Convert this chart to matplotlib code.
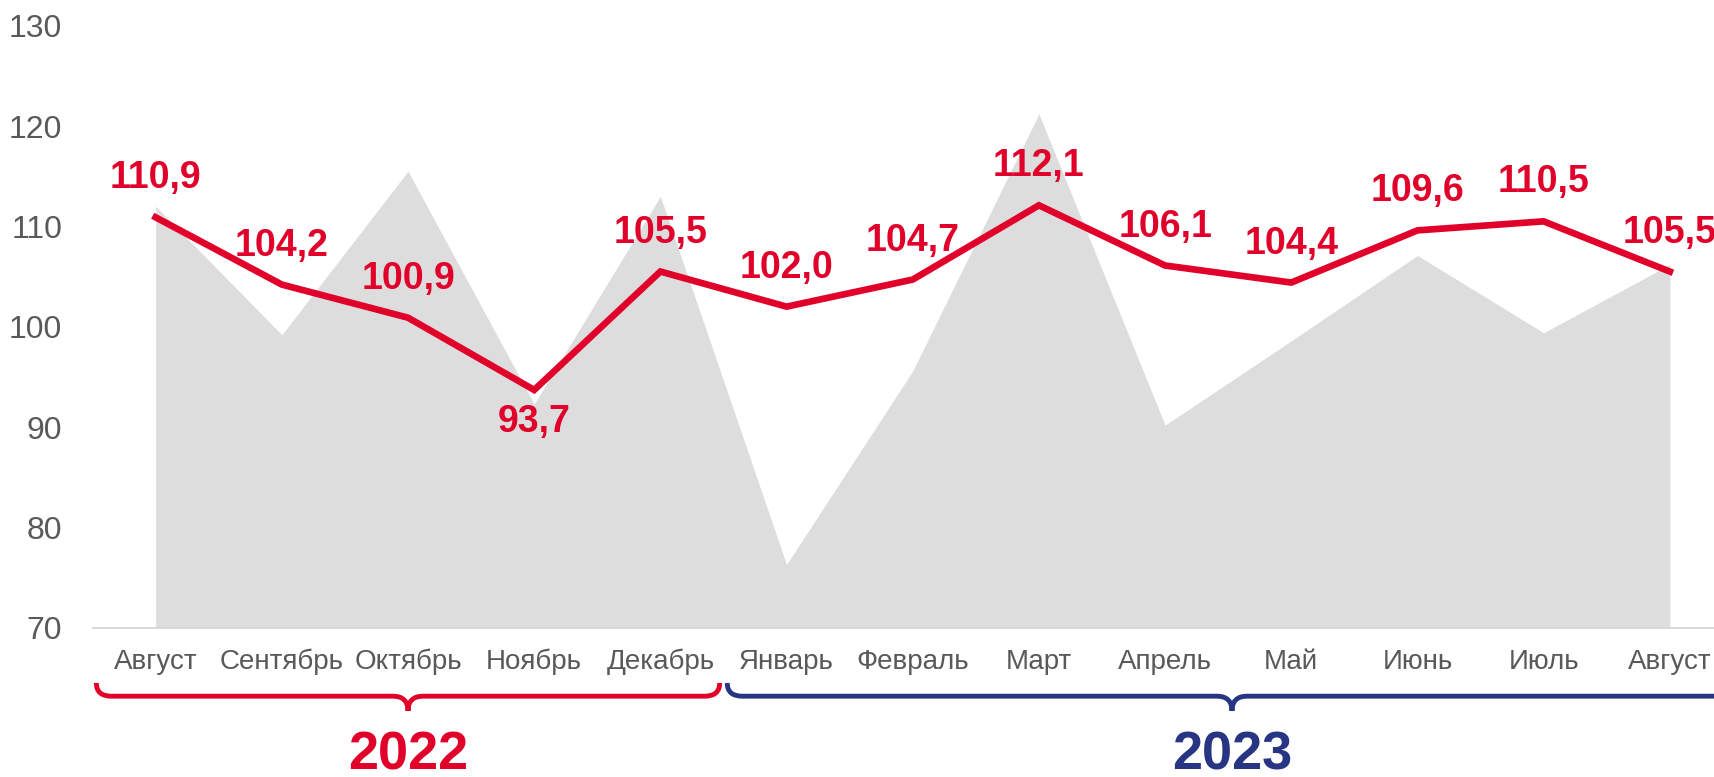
import matplotlib
matplotlib.use('Agg')
import matplotlib.pyplot as plt
from matplotlib.path import Path
from matplotlib.patches import PathPatch
from matplotlib.transforms import blended_transform_factory

# данные
months = ['Август', 'Сентябрь', 'Октябрь', 'Ноябрь', 'Декабрь', 'Январь', 'Февраль',
          'Март', 'Апрель', 'Май', 'Июнь', 'Июль', 'Август']
index_values = [110.9, 104.2, 100.9, 93.7, 105.5, 102.0, 104.7,
                112.1, 106.1, 104.4, 109.6, 110.5, 105.5]
area_values = [112.0, 99.2, 115.5, 92.3, 113.0, 76.3, 95.6,
               121.2, 90.2, 98.6, 107.1, 99.4, 106.2]
years = ['2022', '2023']
year_colors = ['#E1002A', '#283583']
# границы фигурных скобок (в индексах месяцев): левый край, остриё, правый край
brace_spans = [(-0.47, 2.0, 4.47), (4.53, 8.53, 13.5)]

red = '#E1002A'
label_below = [3]

narrow = ['Liberation Sans Narrow', 'Liberation Sans', 'DejaVu Sans']
plt.rcParams['font.family'] = ['Liberation Sans', 'DejaVu Sans']

fig = plt.figure(figsize=(17.14, 7.77), dpi=100)
ax = fig.add_axes([0.054, 0.192, 0.946, 0.775])

x = list(range(len(months)))
ax.fill_between(x, 70, area_values, color='#DDDDDD', linewidth=0, zorder=1)
ax.plot(x, index_values, color=red, linewidth=4.8, solid_joinstyle='miter', zorder=3)

for i, v in enumerate(index_values):
    txt = ('%.1f' % v).replace('.', ',')
    if i in label_below:
        ax.annotate(txt, (i, v), xytext=(0, -23), textcoords='offset points',
                    ha='center', va='center', color=red, fontsize=27, fontweight='bold',
                    zorder=4, annotation_clip=False)
    else:
        ax.annotate(txt, (i, v), xytext=(0, 28), textcoords='offset points',
                    ha='center', va='center', color=red, fontsize=27, fontweight='bold',
                    zorder=4, annotation_clip=False)

ax.set_ylim(70, 130)
ax.set_yticks([70, 80, 90, 100, 110, 120, 130])
ax.set_xlim(-0.5, 12.35)
ax.set_xticks(x)
ax.set_xticklabels(months, fontsize=20, color='#595959', family=narrow)
ax.tick_params(axis='x', length=0, pad=15)
ax.tick_params(axis='y', length=0, pad=22, labelsize=23, labelcolor='#595959')

for s in ['top', 'right', 'left']:
    ax.spines[s].set_visible(False)
ax.spines['bottom'].set_color('#D9D9D9')
ax.spines['bottom'].set_linewidth(1.5)

# фигурные скобки под осью
tr = blended_transform_factory(ax.transData, fig.transFigure)
y_top, y_mid, y_tip = 0.121, 0.104, 0.085
for (left, tip, right), col, yr in zip(brace_spans, year_colors, years):
    r = 0.12
    verts = [(left, y_top), (left, y_mid), (left + r, y_mid),
             (tip - r, y_mid), (tip, y_mid), (tip, y_tip),
             (tip, y_mid), (tip + r, y_mid),
             (right - r, y_mid), (right, y_mid), (right, y_top)]
    codes = [Path.MOVETO, Path.CURVE3, Path.CURVE3,
             Path.LINETO, Path.CURVE3, Path.CURVE3,
             Path.CURVE3, Path.CURVE3,
             Path.LINETO, Path.CURVE3, Path.CURVE3]
    patch = PathPatch(Path(verts, codes), transform=tr, facecolor='none',
                      edgecolor=col, linewidth=3.5, clip_on=False)
    fig.add_artist(patch)
    ax.text(tip, 0.028, yr, transform=tr, ha='center', va='center', color=col,
            fontsize=39, fontweight='bold', family=narrow, clip_on=False)

fig.savefig('out.png', dpi=100)
